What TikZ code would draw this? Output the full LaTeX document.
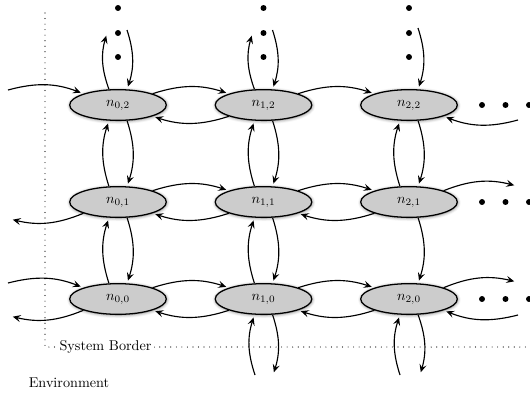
\documentclass[tikz,border=0pt]{standalone}
\usetikzlibrary{shapes.geometric,shadows.blur,arrows.meta}
\begin{document}
\begin{tikzpicture}[x=0.704pt,y=0.704pt,
  cellnode/.style={ellipse, draw, line width=0.9pt, fill=black!20,
    minimum width=68pt, minimum height=21.6pt, inner sep=0pt,
    blur shadow={shadow xshift=0.3pt, shadow yshift=-0.5pt,
      shadow blur radius=2.2pt, shadow opacity=55}},
  flow/.style={-{Stealth[length=5.6pt,width=5pt,inset=2.2pt]}, thick,
    bend left=18, shorten >=2pt},
  dotmark/.style={circle, fill=black, inner sep=0pt, minimum size=4.2pt},
  sysborder/.style={line width=0.8pt, line cap=round, dash pattern=on 0pt off 3.9pt}]
\useasboundingbox (0,0) rectangle (530,393);

% system border and labels
\draw[sysborder] (45,380) -- (45,46) -- (530,46);
\node[fill=white, inner sep=2pt] (sb) at (105.5,46) {System Border};
\node (env) at (69,10) {Environment};

% the grid of nodes
\foreach \c/\x in {0/118,1/263.5,2/409}{
  \foreach \r/\y in {0/94,1/191,2/288}{
    \node[cellnode] (n\c\r) at (\x,\y) {$n_{\c,\r}$};
  }
}

% continuation dots above and to the right
\foreach \x [count=\i] in {118,263.5,409}{
  \foreach \y [count=\j] in {385,360,336}{
    \node[dotmark] (tv\i\j) at (\x,\y) {};
  }
}
\foreach \y [count=\i] in {94,191,288}{
  \foreach \x [count=\j] in {482,505.5,529}{
    \node[dotmark] (rh\i\j) at (\x,\y) {};
  }
}

% loose ends of the connectors
\coordinate (t0u) at (107,360);
\coordinate (t0d) at (127,363);
\coordinate (t1u) at (252.5,360);
\coordinate (t1d) at (272.5,363);
\coordinate (t2d) at (418,365);
\coordinate (l2i) at (8,303);
\coordinate (l1o) at (10,174);
\coordinate (l0i) at (8,110);
\coordinate (l0o) at (10,77);
\coordinate (r2i) at (518,273);
\coordinate (r1o) at (517,207);
\coordinate (r0o) at (517,111);
\coordinate (r0i) at (518,78);
\coordinate (b1u) at (255,18);
\coordinate (b1d) at (273,18);
\coordinate (b2u) at (400,18);
\coordinate (b2d) at (420,18);

% row 2
\draw[flow] (l2i) to (n02.north west);
\draw[flow] (n02.north east) to (n12.north west);
\draw[flow] (n12.south west) to (n02.south east);
\draw[flow] (n12.north east) to (n22.north west);
\draw[flow] (r2i) to (n22.south east);

% upwards out of the top row
\draw[flow] (n02.120) to (t0u);
\draw[flow] (t0d) to (n02.60);
\draw[flow] (n12.120) to (t1u);
\draw[flow] (t1d) to (n12.60);
\draw[flow] (t2d) to (n22.60);

% between rows 2 and 1
\draw[flow] (n01.120) to (n02.240);
\draw[flow] (n02.300) to (n01.60);
\draw[flow] (n11.120) to (n12.240);
\draw[flow] (n12.300) to (n11.60);
\draw[flow] (n21.120) to (n22.240);
\draw[flow] (n22.300) to (n21.60);

% row 1
\draw[flow] (n01.south west) to (l1o);
\draw[flow] (n01.north east) to (n11.north west);
\draw[flow] (n11.south west) to (n01.south east);
\draw[flow] (n11.north east) to (n21.north west);
\draw[flow] (n21.south west) to (n11.south east);
\draw[flow] (n21.north east) to (r1o);

% between rows 1 and 0
\draw[flow] (n00.120) to (n01.240);
\draw[flow] (n01.300) to (n00.60);
\draw[flow] (n10.120) to (n11.240);
\draw[flow] (n11.300) to (n10.60);
\draw[flow] (n21.300) to (n20.60);

% row 0
\draw[flow] (l0i) to (n00.north west);
\draw[flow] (n00.south west) to (l0o);
\draw[flow] (n00.north east) to (n10.north west);
\draw[flow] (n10.south west) to (n00.south east);
\draw[flow] (n10.north east) to (n20.north west);
\draw[flow] (n20.south west) to (n10.south east);
\draw[flow] (n20.north east) to (r0o);
\draw[flow] (r0i) to (n20.south east);

% across the border below
\draw[flow] (b1u) to (n10.240);
\draw[flow] (n10.300) to (b1d);
\draw[flow] (b2u) to (n20.240);
\draw[flow] (n20.300) to (b2d);
\end{tikzpicture}
\end{document}
